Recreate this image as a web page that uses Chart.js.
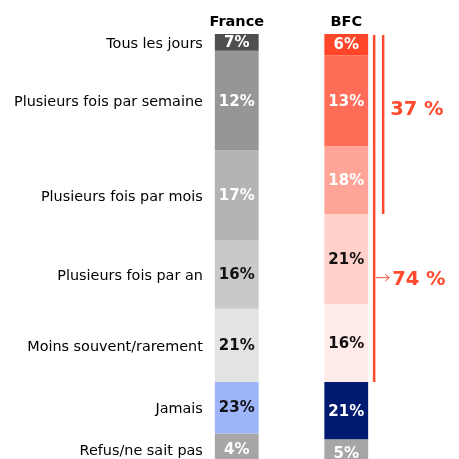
<!DOCTYPE html>
<html><head><meta charset="utf-8">
<script src="https://cdn.jsdelivr.net/npm/chart.js@4.4.1/dist/chart.umd.min.js"></script>
<style>html,body{margin:0;padding:0;background:#fff;overflow:hidden}#wrap{width:459px;height:459px}</style>
</head><body><div id="wrap"><canvas id="c" width="459" height="459"></canvas></div>
<script>
const groups = ['France', 'BFC'];
const categories = ['Tous les jours', 'Plusieurs fois par semaine', 'Plusieurs fois par mois', 'Plusieurs fois par an', 'Moins souvent/rarement', 'Jamais', 'Refus/ne sait pas'];
const franceText = ['7%', '12%', '17%', '16%', '21%', '23%', '4%'];
const bfcText = ['6%', '13%', '18%', '21%', '16%', '21%', '5%'];
// segment sizes as drawn in the picture (share of the column, %)
const franceDrawn = [3.9, 23.1, 20.8, 15.8, 16.9, 12.0, 7.4];
const bfcDrawn = [4.9, 21.1, 15.7, 20.8, 18.1, 13.2, 6.3];
const franceColors = ['#4f4f4f', '#969696', '#b3b3b3', '#c9c9c9', '#e3e3e3', '#9fb5fb', '#a6a6a6'];
const bfcColors = ['#ff4629', '#ff6c58', '#ffa597', '#ffd1ca', '#ffebe8', '#001a70', '#a6a6a6'];
const franceTextColors = ['#fff', '#fff', '#fff', '#111', '#111', '#111', '#fff'];
const bfcTextColors = ['#fff', '#fff', '#fff', '#111', '#111', '#fff', '#fff'];
const bracketLabels = ['37 %', '74 %'];
const bracketSegments = [3, 5];
const accent = '#ff4a2e';

const datasets = categories.map((c, i) => ({
  label: c,
  data: [franceDrawn[i], bfcDrawn[i]],
  backgroundColor: [franceColors[i], bfcColors[i]],
  borderWidth: 0,
  barPercentage: 0.4,
  categoryPercentage: 1
}));

const drawPlugin = {
  id: 'annot',
  afterDatasetsDraw(chart) {
    const ctx = chart.ctx;
    const ys = chart.scales.y;
    const area = chart.chartArea;
    ctx.save();
    // segment labels
    ctx.textAlign = 'center';
    ctx.textBaseline = 'middle';
    ctx.font = 'bold 15px "DejaVu Sans"';
    chart.data.datasets.forEach((ds, i) => {
      const meta = chart.getDatasetMeta(i);
      meta.data.forEach((el, j) => {
        const txt = j === 0 ? franceText[i] : bfcText[i];
        ctx.fillStyle = j === 0 ? franceTextColors[i] : bfcTextColors[i];
        ctx.fillText(txt, el.x, (el.y + el.base) / 2 + 1);
      });
    });
    // group titles
    const m0 = chart.getDatasetMeta(0);
    ctx.fillStyle = '#000';
    ctx.font = 'bold 14.5px "DejaVu Sans"';
    groups.forEach((g, j) => {
      ctx.fillText(g, m0.data[j].x, area.top - 12);
    });
    // category labels aligned on France segments
    ctx.textAlign = 'right';
    ctx.font = '14.4px "DejaVu Sans"';
    ctx.fillStyle = '#000';
    const fl = m0.data[0].x - m0.data[0].width / 2;
    categories.forEach((c, i) => {
      const el = chart.getDatasetMeta(i).data[0];
      ctx.fillText(c, fl - 12, (el.y + el.base) / 2 + 2);
    });
    // brackets
    const b = m0.data[1];
    const right = b.x + b.width / 2;
    const top = ys.getPixelForValue(0);
    const endOf = n => ys.getPixelForValue(bfcDrawn.slice(0, n).reduce((a, v) => a + v, 0));
    const shortEnd = endOf(bracketSegments[0]);
    const longEnd = endOf(bracketSegments[1]);
    ctx.strokeStyle = accent;
    ctx.lineWidth = 2.5;
    ctx.beginPath();
    ctx.moveTo(right + 6, top + 1); ctx.lineTo(right + 6, longEnd);
    ctx.moveTo(right + 15, top + 1); ctx.lineTo(right + 15, shortEnd);
    ctx.stroke();
    ctx.fillStyle = accent;
    ctx.textAlign = 'left';
    ctx.font = 'bold 19.5px "DejaVu Sans"';
    const y1 = top + 0.42 * (shortEnd - top);
    ctx.fillText(bracketLabels[0], right + 22, y1);
    const y2 = top + 0.70 * (longEnd - top);
    ctx.fillText(bracketLabels[1], right + 24, y2 + 2);
    ctx.lineWidth = 1;
    ctx.beginPath();
    ctx.moveTo(right + 8, y2); ctx.lineTo(right + 21, y2);
    ctx.moveTo(right + 17, y2 - 3.5); ctx.lineTo(right + 21, y2); ctx.lineTo(right + 17, y2 + 3.5);
    ctx.stroke();
    ctx.restore();
  }
};

new Chart(document.getElementById('c'), {
  type: 'bar',
  data: { labels: groups, datasets },
  options: {
    responsive: false,
    animation: false,
    layout: { padding: { left: 182, right: 58, top: 34, bottom: 0 } },
    plugins: { legend: { display: false }, tooltip: { enabled: false } },
    scales: {
      x: { stacked: true, display: false },
      y: { stacked: true, display: false, reverse: true, min: 0, max: 98.4 }
    }
  },
  plugins: [drawPlugin]
});
</script>
</body></html>
